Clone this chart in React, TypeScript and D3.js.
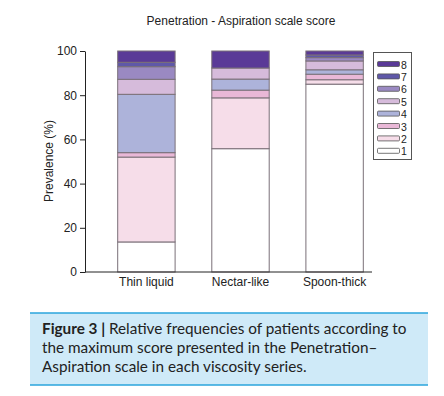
import React, { useEffect, useRef } from "react";
import * as d3 from "d3";

// viscosity series and PAS scores (bottom to top)
const series = ["Thin liquid", "Nectar-like", "Spoon-thick"];
const scores = ["1", "2", "3", "4", "5", "6", "7", "8"];
const thinLiquid = [13.6, 38.4, 2.0, 26.4, 6.8, 5.7, 2.0, 5.1];
const nectarLike = [55.8, 23.0, 3.5, 5.0, 5.0, 0.0, 0.0, 7.7];
const spoonThick = [85.0, 2.0, 2.5, 2.0, 4.0, 1.5, 1.2, 1.8];
const yTicks = [0, 20, 40, 60, 80, 100];
const scoreColors = [
  "#ffffff", "#f6dde9", "#e9b8d7", "#adb3da",
  "#d6bbdb", "#9a89c2", "#5f58a8", "#5a3a97",
];
const captionLines = [
  ["Figure 3 | ", "Relative frequencies of patients according to"],
  ["", "the maximum score presented in the Penetration\u2013"],
  ["", "Aspiration scale in each viscosity series."],
];

const App = () => {
  const ref = useRef<SVGSVGElement>(null);

  useEffect(() => {
    const width = 444;
    const height = 396;
    const svg = d3.select(ref.current).attr("width", width).attr("height", height);
    svg.selectAll("*").remove();

    const font = "'Liberation Sans', Arial, sans-serif";
    const values = [thinLiquid, nectarLike, spoonThick];

    const x = d3.scaleBand().domain(series).range([81, 400]).padding(0.39);
    const y = d3.scaleLinear().domain([0, 100]).range([272, 51]);

    // title
    svg.append("text")
      .attr("x", 241).attr("y", 25)
      .attr("text-anchor", "middle")
      .style("font-family", font).style("font-size", "12px").attr("fill", "#222")
      .text("Penetration - Aspiration scale score");

    // stacked bars
    series.forEach((s, i) => {
      let acc = 0;
      values[i].forEach((v, k) => {
        svg.append("rect")
          .attr("x", x(s)!)
          .attr("y", y(acc + v))
          .attr("width", x.bandwidth())
          .attr("height", y(acc) - y(acc + v))
          .attr("fill", scoreColors[k])
          .attr("stroke", "#7a7078")
          .attr("stroke-width", 1);
        acc += v;
      });
    });

    // y axis
    const yAxis = svg.append("g")
      .attr("transform", "translate(85,0)")
      .call(d3.axisLeft(y).tickValues(yTicks).tickSize(5).tickSizeOuter(0));
    yAxis.select(".domain").attr("stroke", "#222");
    yAxis.selectAll(".tick line").attr("stroke", "#222");
    yAxis.selectAll("text")
      .style("font-family", font).style("font-size", "12px").attr("fill", "#222");

    // x axis
    svg.append("line")
      .attr("x1", 85).attr("x2", 372).attr("y1", 272).attr("y2", 272)
      .attr("stroke", "#222");
    const xAxis = svg.append("g")
      .attr("transform", "translate(0,272)")
      .call(d3.axisBottom(x).tickSize(0).tickPadding(5));
    xAxis.select(".domain").remove();
    xAxis.selectAll("text")
      .style("font-family", font).style("font-size", "12px").attr("fill", "#222");

    // y label
    svg.append("text")
      .attr("transform", "translate(53,161) rotate(-90)")
      .attr("text-anchor", "middle")
      .style("font-family", font).style("font-size", "12px").attr("fill", "#222")
      .text("Prevalence (%)");

    // legend
    svg.append("rect")
      .attr("x", 373.5).attr("y", 52.5).attr("width", 38).attr("height", 107)
      .attr("fill", "#fff").attr("stroke", "#555");
    const legendRows = scores.slice().reverse();
    legendRows.forEach((sc, j) => {
      const k = scores.indexOf(sc);
      const ly = 61.5 + j * 12.4;
      svg.append("rect")
        .attr("x", 377.5).attr("y", ly).attr("width", 22).attr("height", 5)
        .attr("rx", 1)
        .attr("fill", scoreColors[k]).attr("stroke", "#555").attr("stroke-width", 0.8);
      svg.append("text")
        .attr("x", 401).attr("y", ly + 7)
        .style("font-family", font).style("font-size", "10.5px").attr("fill", "#222")
        .text(sc);
    });

    // caption box
    svg.append("rect")
      .attr("x", 30).attr("y", 313).attr("width", 398).attr("height", 72)
      .attr("fill", "#cfeaf8");
    [313, 385].forEach((ly) =>
      svg.append("line")
        .attr("x1", 30).attr("x2", 428).attr("y1", ly).attr("y2", ly)
        .attr("stroke", "#2aa4dd").attr("stroke-width", 1.6)
    );
    captionLines.forEach(([bold, rest], i) => {
      const t = svg.append("text")
        .attr("x", 42).attr("y", 334 + i * 18.8)
        .style("font-family", "Lato, 'Open Sans', sans-serif").style("font-size", "15.3px")
        .attr("fill", "#222");
      if (bold) t.append("tspan").attr("font-weight", "bold").text(bold);
      t.append("tspan").text(rest);
    });
  }, []);

  return (
    <div style={{ position: "absolute", left: 0, top: 0 }}>
      <svg ref={ref} style={{ display: "block" }}></svg>
    </div>
  );
};

export default App;
